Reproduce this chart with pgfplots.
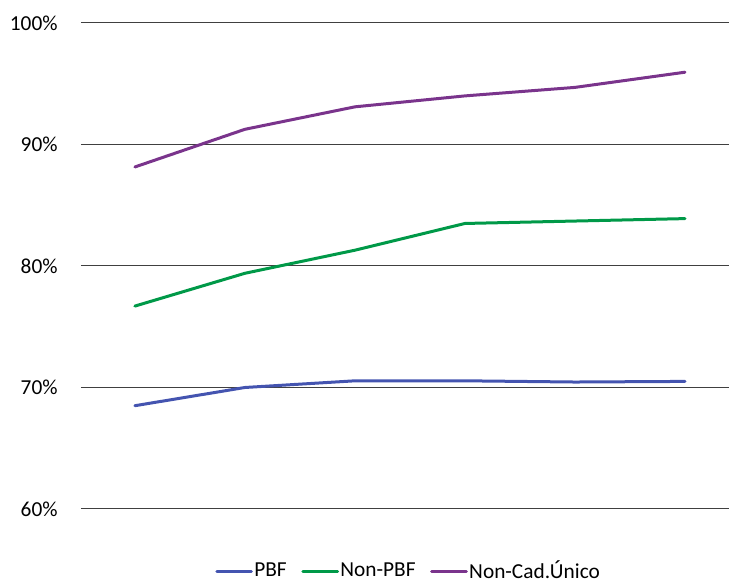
\documentclass[border=0pt]{standalone}
\usepackage{pgfplots}
\pgfplotsset{compat=1.18}
\usepackage{fontspec}
\setmainfont{Carlito}
\definecolor{cblue}{RGB}{68,84,176}
\definecolor{cgreen}{RGB}{0,153,72}
\definecolor{cpurple}{RGB}{122,52,140}
\begin{document}
\fontsize{16}{19}\selectfont
\begin{tikzpicture}
\useasboundingbox (-60.75pt,-56.25pt) rectangle (486pt,381.75pt);
\begin{axis}[
  at={(0,0)}, anchor=south west,
  scale only axis, width=486pt, height=364.5pt,
  xmin=-0.49, xmax=5.4,
  ymin=60, ymax=100,
  ytick={60,70,80,90,100},
  yticklabel={\pgfmathprintnumber{\tick}\%},
  /pgf/number format/assume math mode=true,
  yticklabel style={font=\fontsize{16}{19}\selectfont, xshift=-12pt},
  xtick=\empty,
  axis line style={draw=none},
  major tick length=0pt,
  ymajorgrids,
  grid style={black!75, line width=0.75pt},
  clip=false,
  legend columns=3,
  legend style={at={(0.505,-0.129)}, anchor=center, draw=none, fill=none,
    font=\fontsize{16}{19}\selectfont,
    /tikz/every even column/.append style={column sep=10pt},
    nodes={inner sep=1pt}},
  legend image code/.code={\draw[#1] (0pt,0pt) -- (26pt,0pt);},
  every axis plot/.append style={line width=2.25pt, line join=round, line cap=round},
]
\addplot[cblue] coordinates {(0,68.5) (1,70.0) (2,70.55) (3,70.55) (4,70.45) (5,70.5)};
\addlegendentry{PBF}
\addplot[cgreen] coordinates {(0,76.7) (1,79.4) (2,81.3) (3,83.5) (4,83.7) (5,83.9)};
\addlegendentry{Non-PBF}
\addplot[cpurple] coordinates {(0,88.15) (1,91.25) (2,93.1) (3,94.0) (4,94.7) (5,95.95)};
\addlegendentry{Non-Cad.Único}
\end{axis}
\end{tikzpicture}
\end{document}
